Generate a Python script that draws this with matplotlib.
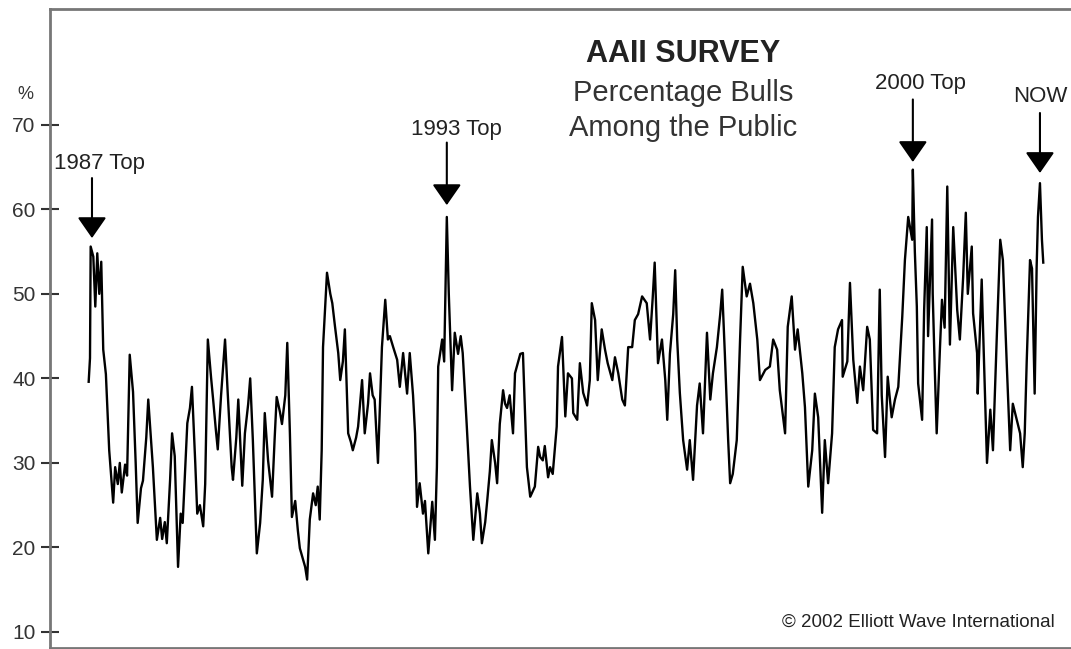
import matplotlib
matplotlib.use('Agg')
import matplotlib.pyplot as plt

plt.rcParams['font.family'] = ['Liberation Sans', 'DejaVu Sans']

# weekly AAII readings (decimal year, % bulls)
weeks = [
    1987.55, 1987.57, 1987.58, 1987.62, 1987.65, 1987.68, 1987.71, 1987.74, 1987.77, 1987.81,
    1987.86, 1987.92, 1987.95, 1987.99, 1988.02, 1988.05, 1988.10, 1988.13, 1988.17, 1988.22,
    1988.26, 1988.29, 1988.34, 1988.37, 1988.42, 1988.45, 1988.49, 1988.52, 1988.58, 1988.63,
    1988.66, 1988.70, 1988.73, 1988.78, 1988.81, 1988.85, 1988.90, 1988.94, 1988.97, 1989.04,
    1989.08, 1989.11, 1989.16, 1989.19, 1989.23, 1989.28, 1989.31, 1989.35, 1989.40, 1989.43,
    1989.47, 1989.50, 1989.55, 1989.61, 1989.65, 1989.71, 1989.73, 1989.78, 1989.81, 1989.87,
    1989.91, 1989.96, 1989.99, 1990.03, 1990.09, 1990.14, 1990.18, 1990.21, 1990.26, 1990.32,
    1990.36, 1990.39, 1990.44, 1990.47, 1990.52, 1990.55, 1990.59, 1990.62, 1990.67, 1990.71,
    1990.74, 1990.79, 1990.82, 1990.85, 1990.89, 1990.94, 1990.98, 1991.01, 1991.04, 1991.07,
    1991.09, 1991.15, 1991.20, 1991.23, 1991.27, 1991.32, 1991.35, 1991.39, 1991.42, 1991.47,
    1991.51, 1991.54, 1991.59, 1991.62, 1991.68, 1991.72, 1991.77, 1991.80, 1991.84, 1991.87,
    1991.92, 1991.98, 1992.03, 1992.07, 1992.10, 1992.15, 1992.21, 1992.25, 1992.30, 1992.36,
    1992.40, 1992.45, 1992.48, 1992.51, 1992.55, 1992.60, 1992.63, 1992.68, 1992.74, 1992.78,
    1992.81, 1992.83, 1992.89, 1992.92, 1992.96, 1992.99, 1993.04, 1993.08, 1993.13, 1993.17,
    1993.20, 1993.26, 1993.31, 1993.36, 1993.42, 1993.46, 1993.49, 1993.54, 1993.57, 1993.61,
    1993.64, 1993.69, 1993.72, 1993.76, 1993.81, 1993.84, 1993.87, 1993.91, 1993.96, 1993.99,
    1994.07, 1994.11, 1994.17, 1994.22, 1994.29, 1994.34, 1994.37, 1994.41, 1994.44, 1994.49,
    1994.52, 1994.56, 1994.62, 1994.64, 1994.70, 1994.75, 1994.79, 1994.85, 1994.87, 1994.93,
    1994.97, 1995.02, 1995.08, 1995.12, 1995.15, 1995.20, 1995.24, 1995.30, 1995.35, 1995.39,
    1995.46, 1995.50, 1995.55, 1995.61, 1995.65, 1995.70, 1995.76, 1995.80, 1995.85, 1995.91,
    1995.98, 1996.03, 1996.07, 1996.10, 1996.15, 1996.21, 1996.26, 1996.29, 1996.33, 1996.38,
    1996.41, 1996.44, 1996.48, 1996.53, 1996.59, 1996.63, 1996.68, 1996.74, 1996.78, 1996.83,
    1996.89, 1996.94, 1996.98, 1997.04, 1997.09, 1997.12, 1997.16, 1997.21, 1997.24, 1997.28,
    1997.34, 1997.39, 1997.43, 1997.49, 1997.54, 1997.59, 1997.65, 1997.69, 1997.77, 1997.84,
    1997.89, 1997.95, 1997.99, 1998.07, 1998.11, 1998.17, 1998.22, 1998.26, 1998.33, 1998.37,
    1998.42, 1998.48, 1998.52, 1998.57, 1998.63, 1998.67, 1998.72, 1998.78, 1998.82, 1998.87,
    1998.93, 1998.94, 1999.01, 1999.05, 1999.10, 1999.16, 1999.20, 1999.25, 1999.31, 1999.35,
    1999.40, 1999.46, 1999.50, 1999.53, 1999.58, 1999.62, 1999.68, 1999.73, 1999.78, 1999.84,
    1999.88, 1999.93, 1999.99, 2000.00, 2000.03, 2000.06, 2000.08, 2000.14, 2000.17, 2000.21,
    2000.23, 2000.29, 2000.30, 2000.33, 2000.36, 2000.41, 2000.44, 2000.48, 2000.52, 2000.56,
    2000.61, 2000.67, 2000.71, 2000.76, 2000.80, 2000.83, 2000.89, 2000.91, 2000.97, 2000.98,
    2001.04, 2001.06, 2001.12, 2001.17, 2001.21, 2001.27, 2001.32, 2001.36, 2001.42, 2001.47,
    2001.51, 2001.57, 2001.62, 2001.66, 2001.69, 2001.72, 2001.77, 2001.80, 2001.84, 2001.87,
    2001.89, 2001.92, 2001.95, 2001.97,
]
bulls = [
    39.6, 42.4, 55.6, 54.4, 48.5, 54.8, 50.0, 53.8, 43.4, 40.5,
    31.5, 25.3, 29.5, 27.5, 30.0, 26.5, 29.8, 28.5, 42.8, 38.4,
    30.0, 22.9, 27.0, 27.9, 33.0, 37.5, 33.0, 29.5, 20.9, 23.5,
    21.0, 23.0, 20.5, 28.0, 33.5, 30.8, 17.7, 24.0, 22.9, 34.7,
    36.5, 39.0, 30.0, 24.0, 25.0, 22.5, 27.5, 44.6, 40.0, 37.5,
    34.0, 31.6, 38.0, 44.6, 38.3, 29.5, 28.0, 33.0, 37.5, 27.3,
    33.5, 37.0, 40.0, 32.7, 19.3, 22.9, 28.0, 35.9, 30.3, 26.0,
    33.0, 37.8, 36.0, 34.6, 38.0, 44.2, 33.4, 23.6, 25.5, 22.0,
    19.9, 18.5, 17.7, 16.2, 23.3, 26.4, 25.0, 27.2, 23.3, 31.5,
    43.7, 52.5, 50.0, 48.9, 46.2, 43.0, 39.8, 42.0, 45.8, 33.5,
    32.5, 31.5, 33.0, 34.3, 39.8, 33.5, 37.0, 40.6, 38.0, 37.5,
    30.0, 43.7, 49.3, 44.6, 45.0, 43.7, 42.2, 39.0, 43.0, 38.2,
    43.0, 38.0, 33.5, 24.8, 27.6, 24.0, 25.5, 19.3, 25.4, 20.9,
    29.5, 41.4, 44.6, 42.0, 59.1, 50.0, 38.6, 45.4, 42.9, 45.0,
    43.0, 34.6, 27.2, 20.9, 26.4, 24.0, 20.5, 23.0, 25.5, 29.0,
    32.7, 30.0, 27.6, 34.6, 38.6, 37.0, 36.5, 38.0, 33.5, 40.6,
    42.9, 43.0, 29.5, 26.0, 27.2, 31.9, 30.7, 30.3, 32.0, 28.3,
    29.5, 28.7, 34.3, 41.4, 44.9, 35.5, 40.6, 40.0, 35.9, 35.1,
    41.8, 38.3, 36.8, 39.8, 48.9, 46.9, 39.8, 45.8, 43.4, 41.8,
    39.8, 42.5, 40.6, 37.5, 36.8, 43.7, 43.7, 46.9, 47.6, 49.7,
    48.9, 44.6, 49.5, 53.7, 41.8, 44.6, 39.8, 35.1, 42.9, 47.6,
    52.8, 44.6, 38.3, 32.7, 29.2, 32.7, 28.0, 36.8, 39.4, 33.5,
    45.4, 37.5, 40.6, 43.7, 47.6, 50.5, 42.9, 32.7, 27.6, 28.7,
    32.7, 44.6, 53.2, 49.7, 51.2, 48.9, 44.6, 39.8, 41.0, 41.4,
    44.6, 43.4, 38.6, 33.5, 46.1, 49.7, 43.4, 45.8, 40.6, 36.6,
    27.2, 31.5, 38.2, 35.4, 24.1, 32.7, 27.6, 33.5, 43.7, 45.8,
    46.9, 40.2, 42.0, 51.3, 42.2, 37.1, 41.4, 38.6, 46.1, 44.6,
    33.9, 33.5, 50.5, 38.0, 30.7, 40.2, 35.4, 37.5, 39.0, 47.3,
    54.0, 59.1, 56.4, 64.7, 55.0, 48.5, 39.4, 35.1, 48.0, 57.9,
    45.0, 58.8, 50.0, 41.4, 33.5, 43.7, 49.3, 46.0, 62.7, 44.0,
    57.9, 48.1, 44.6, 52.0, 59.6, 50.0, 55.6, 47.7, 43.0, 38.2,
    51.7, 46.0, 30.0, 36.3, 31.5, 45.4, 56.4, 54.0, 41.4, 31.5,
    37.0, 35.1, 33.5, 29.5, 33.5, 42.0, 54.0, 53.0, 38.2, 53.2,
    59.1, 63.1, 56.4, 53.7,
]

y_ticks = [10, 20, 30, 40, 50, 60, 70]

# (label, arrow x, arrow tip, arrow tail, label x, label y)
tops = [
    ('1987 Top', 1987.60, 56.6, 63.7, 1987.72, 65.4),
    ('1993 Top', 1992.96, 60.5, 67.9, 1993.11, 69.4),
    ('2000 Top', 2000.00, 65.6, 73.0, 2000.12, 74.9),
    ('NOW', 2001.92, 64.3, 71.4, 2001.92, 73.3),
]

fig = plt.figure(figsize=(10.71, 6.49), dpi=100)
ax = fig.add_axes([0.0467, 0.0015, 0.9533, 0.9846])

ax.plot(weeks, bulls, color='black', lw=1.7)

ax.set_xlim(1986.966, 2002.389)
ax.set_ylim(8.1, 83.7)
ax.set_xticks([])
ax.set_yticks(y_ticks)
ax.tick_params(axis='y', direction='inout', length=13, width=1.5, color='#333333',
               labelsize=15, labelcolor='#333333', pad=4)

for side in ['left', 'top', 'bottom']:
    ax.spines[side].set_color('#777777')
    ax.spines[side].set_linewidth(2)
ax.spines['right'].set_visible(False)

for label, ax_x, tip, tail, tx, ty in tops:
    ax.annotate('', xy=(ax_x, tip), xytext=(ax_x, tail),
                arrowprops=dict(arrowstyle='-|>,head_length=0.72,head_width=0.5',
                                mutation_scale=18, color='black', lw=1.5,
                                shrinkA=0, shrinkB=0))
    ax.text(tx, ty, label, ha='center', va='center', fontsize=16, color='#222222')

fig.text(0.638, 0.917, 'AAII SURVEY', ha='center', va='center',
         fontsize=22, fontweight='bold', color='#222222')
fig.text(0.638, 0.857, 'Percentage Bulls', ha='center', va='center',
         fontsize=21, color='#333333')
fig.text(0.638, 0.803, 'Among the Public', ha='center', va='center',
         fontsize=21, color='#333333')
fig.text(0.024, 0.854, '%', ha='center', va='center', fontsize=13, color='#333333')
fig.text(0.985, 0.0416, '\u00a9 2002 Elliott Wave International', ha='right', va='center',
         fontsize=13.5, color='#222222')

fig.savefig('out.png', dpi=100)
